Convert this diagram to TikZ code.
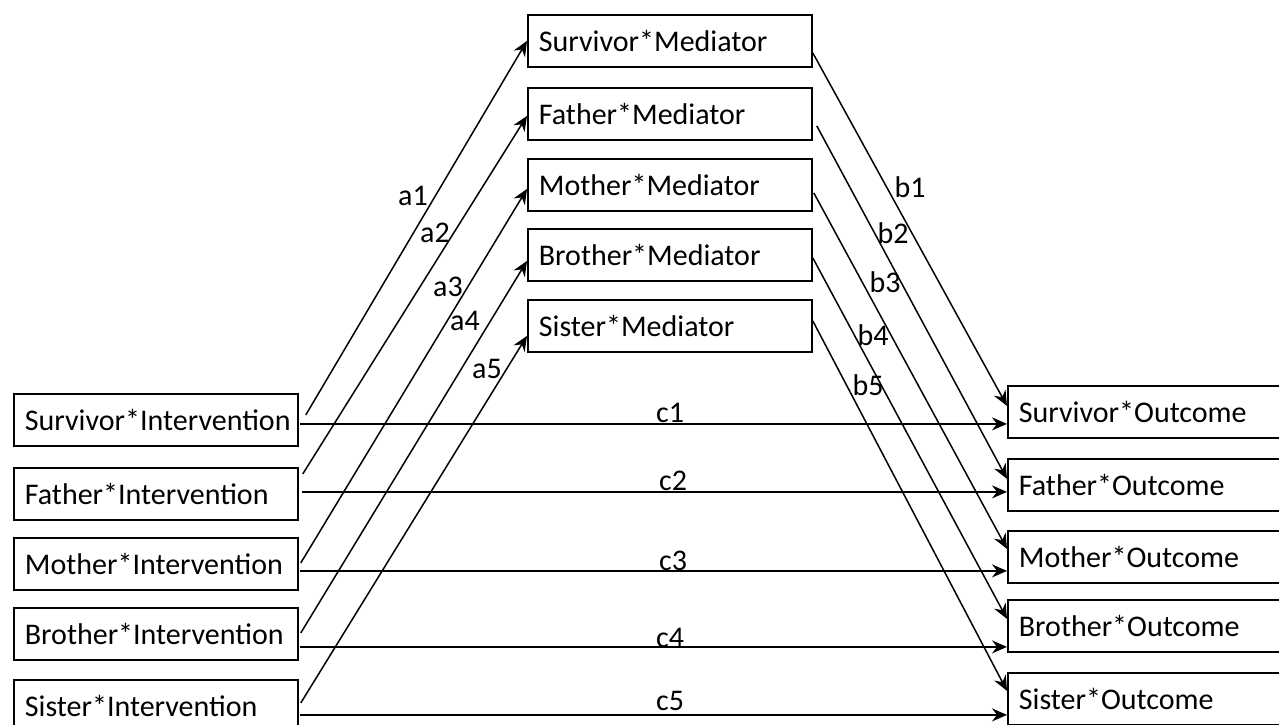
\documentclass[tikz,border=0pt]{standalone}
\usepackage{fontspec}
\setmainfont{Carlito}
\usetikzlibrary{arrows.meta,calc}
\begin{document}
\begin{tikzpicture}[x=1pt,y=-1pt,
  box/.style={draw, line width=1.8pt, minimum width=284pt, minimum height=52pt,
    anchor=north west, inner xsep=11pt, text width=262pt, align=left,
    font=\fontsize{30}{35}\selectfont},
  arr/.style={line width=1.5pt, -{Stealth[length=15pt,width=13pt,inset=5pt]}},
  lab/.style={anchor=base, inner sep=0pt, font=\fontsize{30}{35}\selectfont}]
\useasboundingbox (0,0) rectangle (1279,724);
\clip (0,0) rectangle (1279,724);
% left column
\node[box] (SI)  at (13,393) {Survivor*Intervention};
\node[box] (FI)  at (13,467) {Father*Intervention};
\node[box] (MI)  at (13,537) {Mother*Intervention};
\node[box] (BI)  at (13,607) {Brother*Intervention};
\node[box] (SiI) at (13,679) {Sister*Intervention};
% mediators
\node[box] (SM)  at (527,14)  {Survivor*Mediator};
\node[box] (FM)  at (527,87)  {Father*Mediator};
\node[box] (MM)  at (527,158) {Mother*Mediator};
\node[box] (BM)  at (527,228) {Brother*Mediator};
\node[box] (SiM) at (527,299) {Sister*Mediator};
% outcomes
\node[box] (SO)  at (1007,385) {Survivor*Outcome};
\node[box] (FO)  at (1007,458) {Father*Outcome};
\node[box] (MO)  at (1007,530) {Mother*Outcome};
\node[box] (BO)  at (1007,599) {Brother*Outcome};
\node[box] (SiO) at (1007,672) {Sister*Outcome};
% a paths
\draw[arr] ($(SI.east)+(7,-5)$)   -- (SM.west);
\draw[arr] ($(FI.east)+(4,-20)$)  -- ($(FM.west)+(0,2)$);
\draw[arr] ($(MI.east)+(2,-1)$)   -- ($(MM.west)+(0,4)$);
\draw[arr] ($(BI.east)+(2,-1)$)   -- ($(BM.west)+(0,6)$);
\draw[arr] ($(SiI.east)+(2,-3)$)  -- ($(SiM.west)+(0,10)$);
% b paths
\draw[arr] ($(SM.east)+(0,12)$)  -- ($(SO.west)+(0,-6)$);
\draw[arr] ($(FM.east)+(4,12)$)  -- ($(FO.west)+(0,-6)$);
\draw[arr] ($(MM.east)+(1,8)$)   -- ($(MO.west)+(0,-8)$);
\draw[arr] ($(BM.east)+(0,3)$)   -- ($(BO.west)+(0,-7)$);
\draw[arr] ($(SiM.east)+(0,-5)$) -- ($(SiO.west)+(0,-8)$);
% c paths
\coordinate (c1s) at ($(SI.east)+(1,4)$);
\coordinate (c2s) at ($(FI.east)+(3,-2)$);
\coordinate (c3s) at ($(MI.east)+(1,7)$);
\coordinate (c4s) at ($(BI.east)+(1,13)$);
\coordinate (c5s) at ($(SiI.east)+(1,9)$);
\draw[arr] (c1s) -- (c1s -| SO.west);
\draw[arr] (c2s) -- (c2s -| FO.west);
\draw[arr] (c3s) -- (c3s -| MO.west);
\draw[arr] (c4s) -- (c4s -| BO.west);
\draw[arr] (c5s) -- (c5s -| SiO.west);
% labels
\node[lab] (la1) at (413,205) {a1};
\node[lab] (la2) at (435,242) {a2};
\node[lab] (la3) at (448,296) {a3};
\node[lab] (la4) at (465,330) {a4};
\node[lab] (la5) at (487,378) {a5};
\node[lab] (lb1) at (910,197) {b1};
\node[lab] (lb2) at (893,243) {b2};
\node[lab] (lb3) at (885,292) {b3};
\node[lab] (lb4) at (873,345) {b4};
\node[lab] (lb5) at (868,395) {b5};
\node[lab] (lc1) at (670,422) {c1};
\node[lab] (lc2) at (673,490) {c2};
\node[lab] (lc3) at (673,570) {c3};
\node[lab] (lc4) at (670,647) {c4};
\node[lab] (lc5) at (670,710) {c5};
\end{tikzpicture}
\end{document}
